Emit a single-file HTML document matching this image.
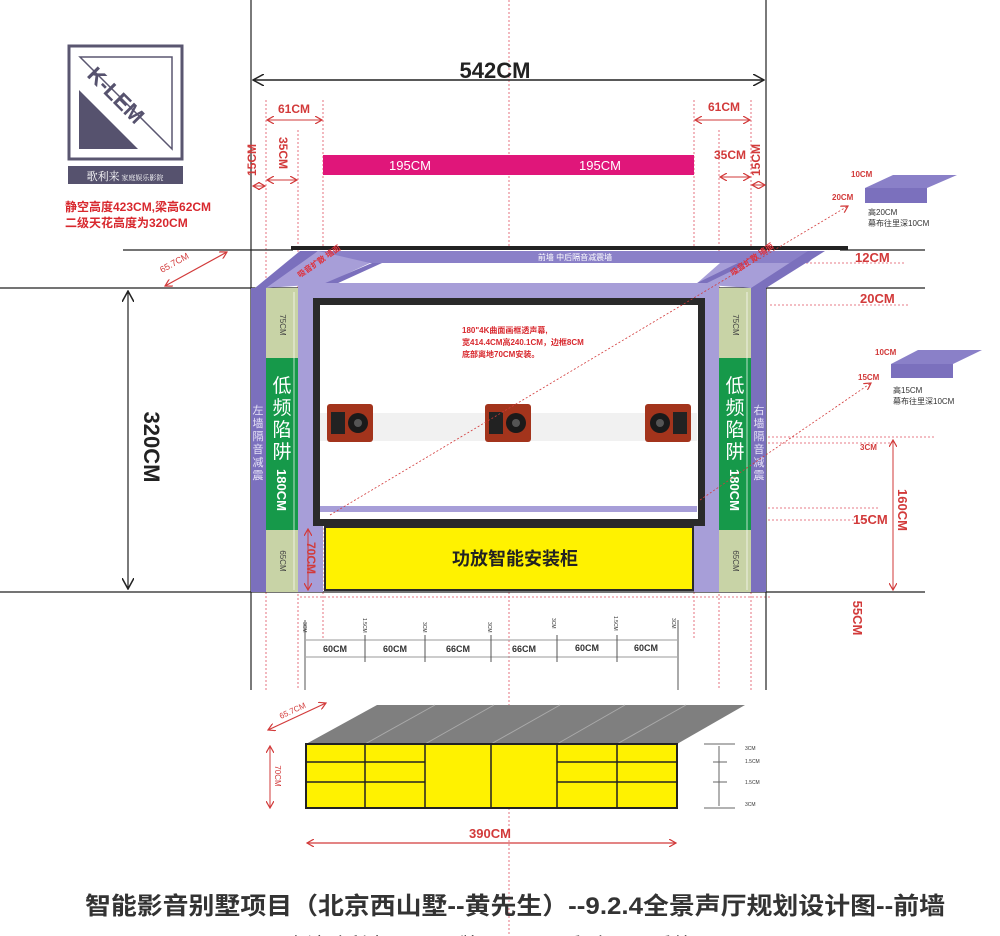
<!DOCTYPE html>
<html><head><meta charset="utf-8"><style>
body{margin:0;background:#fff;}
svg{display:block;font-family:"Liberation Sans","Noto Sans CJK SC",sans-serif;}
</style></head><body>
<svg width="1000" height="936" viewBox="0 0 1000 936" xmlns="http://www.w3.org/2000/svg">
<defs>
<marker id="ar" markerWidth="8" markerHeight="8" refX="7" refY="4" orient="auto-start-reverse" markerUnits="userSpaceOnUse"><path d="M0,0 L7,4 L0,8" fill="none" stroke="#d23a3a" stroke-width="1.2"/></marker>
<marker id="ak" markerWidth="12" markerHeight="12" refX="11" refY="6" orient="auto-start-reverse" markerUnits="userSpaceOnUse"><path d="M0,0 L11,6 L0,12" fill="none" stroke="#222" stroke-width="1.5"/></marker>
</defs>
<rect width="1000" height="936" fill="#fff"/>

<g stroke="#e05060" stroke-width="0.8" stroke-dasharray="2,2" fill="none">
<line x1="509" y1="0" x2="509" y2="936"/>
<line x1="266" y1="100" x2="266" y2="690"/>
<line x1="298" y1="130" x2="298" y2="690"/>
<line x1="323" y1="100" x2="323" y2="640"/>
<line x1="694" y1="100" x2="694" y2="640"/>
<line x1="719" y1="130" x2="719" y2="690"/>
<line x1="751" y1="100" x2="751" y2="690"/>
<line x1="770" y1="263" x2="905" y2="263"/>
<line x1="770" y1="305" x2="910" y2="305"/>
<line x1="320" y1="437" x2="935" y2="437"/>
<line x1="320" y1="443" x2="890" y2="443"/>
<line x1="300" y1="508" x2="880" y2="508"/>
<line x1="300" y1="520" x2="870" y2="520"/>
<line x1="300" y1="597" x2="770" y2="597"/>
</g>

<g stroke="#222" stroke-width="1.2">
<line x1="251" y1="0" x2="251" y2="690"/>
<line x1="766" y1="0" x2="766" y2="690"/>
<line x1="0" y1="288" x2="925" y2="288"/>
<line x1="0" y1="592" x2="925" y2="592"/>
<line x1="123" y1="250" x2="293" y2="250"/>
<line x1="840" y1="250" x2="925" y2="250"/>
</g>
<line x1="253" y1="80" x2="764" y2="80" stroke="#222" stroke-width="1.5" marker-start="url(#ak)" marker-end="url(#ak)"/>
<text x="495" y="78" font-size="22" font-weight="bold" text-anchor="middle" fill="#222">542CM</text>

<rect x="69" y="46" width="113" height="113" fill="#fff" stroke="#5a5670" stroke-width="3"/>
<path d="M80,57 L172,57 L172,149 Z" fill="none" stroke="#5a5670" stroke-width="1.5"/>
<path d="M79,90 L79,149 L138,149 Z" fill="#56526e"/>
<text x="0" y="0" font-size="22" font-weight="bold" fill="#56526e" transform="translate(86,76) rotate(45)">K-LEM</text>
<rect x="68" y="166" width="115" height="18" fill="#56526e"/>
<text x="125" y="180" font-size="11" fill="#fff" text-anchor="middle" font-family="Liberation Serif,Noto Serif CJK SC,serif">歌利来<tspan font-size="7"> 家庭娱乐影院</tspan></text>
<text x="65" y="211" font-size="12" font-weight="bold" fill="#d8282e">静空高度423CM,梁高62CM</text>
<text x="65" y="227" font-size="12" font-weight="bold" fill="#d8282e">二级天花高度为320CM</text>

<g stroke="#d23a3a" stroke-width="1" fill="none">
<line x1="267" y1="120" x2="322" y2="120" marker-start="url(#ar)" marker-end="url(#ar)"/>
<line x1="267" y1="180" x2="297" y2="180" marker-start="url(#ar)" marker-end="url(#ar)"/>
<line x1="253" y1="186" x2="265" y2="186" marker-start="url(#ar)" marker-end="url(#ar)"/>
<line x1="695" y1="120" x2="750" y2="120" marker-start="url(#ar)" marker-end="url(#ar)"/>
<line x1="720" y1="177" x2="750" y2="177" marker-start="url(#ar)" marker-end="url(#ar)"/>
<line x1="752" y1="185" x2="765" y2="185" marker-start="url(#ar)" marker-end="url(#ar)"/>
</g>
<g fill="#d23a3a" font-weight="bold">
<text x="294" y="113" font-size="12" text-anchor="middle">61CM</text>
<text x="724" y="111" font-size="12" text-anchor="middle">61CM</text>
<text x="730" y="159" font-size="12" text-anchor="middle">35CM</text>
<text font-size="12" transform="translate(256,160) rotate(-90)" text-anchor="middle">15CM</text>
<text font-size="12" transform="translate(279,153) rotate(90)" text-anchor="middle">35CM</text>
<text font-size="12" transform="translate(760,160) rotate(-90)" text-anchor="middle">15CM</text>
</g>
<rect x="323" y="155" width="371" height="20" fill="#e0167a"/>
<text x="410" y="170" font-size="13" fill="#fff" text-anchor="middle">195CM</text>
<text x="600" y="170" font-size="13" fill="#fff" text-anchor="middle">195CM</text>

<rect x="291" y="246" width="557" height="4" fill="#222"/>
<polygon points="255,288 318,251 820,251 766,288 750,288 695,284 323,284 266,288" fill="#a79ed8"/>
<polygon points="318,251 820,251 808,263 370,263" fill="#8a80c8"/>
<polygon points="255,288 300,251 318,251 266,288" fill="#7b70bd"/>
<polygon points="766,288 825,251 808,251 751,288" fill="#7b70bd"/>
<polygon points="323,285 370,263 700,263 720,263 695,285" fill="#fff"/>
<polygon points="323,284 372,263 382,263 336,284" fill="#7b70bd"/>
<polygon points="695,284 738,263 748,263 705,284" fill="#7b70bd"/>
<text x="575" y="260" font-size="8" fill="#fff" text-anchor="middle">前墙 中后隔音减震墙</text>
<text font-size="8" fill="#e0303a" font-weight="bold" transform="translate(300,278) rotate(-35)">吸音扩散 墙面</text>
<text font-size="8" fill="#e0303a" font-weight="bold" transform="translate(733,276) rotate(-35)">吸音扩散 墙面</text>

<rect x="251" y="288" width="15" height="304" fill="#7b70bd"/>
<rect x="751" y="288" width="15" height="304" fill="#7b70bd"/>
<rect x="266" y="288" width="32" height="304" fill="#c8d3a6"/>
<rect x="719" y="288" width="32" height="304" fill="#c8d3a6"/>
<rect x="266" y="358" width="32" height="172" fill="#16994a"/>
<rect x="719" y="358" width="32" height="172" fill="#16994a"/>
<rect x="298" y="283" width="25" height="309" fill="#a79ed8"/>
<rect x="694" y="283" width="25" height="309" fill="#a79ed8"/>
<rect x="313" y="283" width="392" height="15" fill="#a79ed8"/>
<rect x="316.5" y="301.5" width="385" height="221" fill="#fff" stroke="#2a2a2a" stroke-width="7"/>
<rect x="320" y="506" width="377" height="6" fill="#a79ed8"/>
<rect x="320" y="413" width="377" height="28" fill="#f1f1f1"/>
<g fill="#d8282e" font-size="8" font-weight="bold">
<text x="462" y="333">180"4K曲面画框透声幕,</text>
<text x="462" y="345">宽414.4CM高240.1CM，边框8CM</text>
<text x="462" y="357">底部离地70CM安装。</text>
</g>
<g>
<rect x="327" y="404" width="46" height="38" rx="3" fill="#a3341c"/>
<rect x="331" y="412" width="14" height="22" fill="#222"/><circle cx="358" cy="423" r="10" fill="#1a1a1a"/><circle cx="358" cy="423" r="4" fill="#555"/>
<rect x="485" y="404" width="46" height="38" rx="3" fill="#a3341c"/>
<rect x="489" y="412" width="14" height="22" fill="#222"/><circle cx="516" cy="423" r="10" fill="#1a1a1a"/><circle cx="516" cy="423" r="4" fill="#555"/>
<rect x="645" y="404" width="46" height="38" rx="3" fill="#a3341c"/>
<circle cx="660" cy="423" r="10" fill="#1a1a1a"/><circle cx="660" cy="423" r="4" fill="#555"/><rect x="673" y="412" width="14" height="22" fill="#222"/>
</g>
<rect x="325" y="527" width="368" height="63" fill="#fff200" stroke="#2a2a2a" stroke-width="2"/>
<text x="515" y="565" font-size="18" font-weight="bold" text-anchor="middle" fill="#222">功放智能安装柜</text>

<g fill="#fff" font-size="19" text-anchor="middle">
<text x="282" y="392">低</text><text x="282" y="414">频</text><text x="282" y="436">陷</text><text x="282" y="458">阱</text>
<text x="735" y="392">低</text><text x="735" y="414">频</text><text x="735" y="436">陷</text><text x="735" y="458">阱</text>
</g>
<text font-size="13" font-weight="bold" fill="#fff" text-anchor="middle" transform="translate(277,490) rotate(90)">180CM</text>
<text font-size="13" font-weight="bold" fill="#fff" text-anchor="middle" transform="translate(730,490) rotate(90)">180CM</text>
<g font-size="8" fill="#444" text-anchor="middle">
<text transform="translate(280,325) rotate(90)">75CM</text>
<text transform="translate(280,561) rotate(90)">65CM</text>
<text transform="translate(733,325) rotate(90)">75CM</text>
<text transform="translate(733,561) rotate(90)">65CM</text>
</g>
<g fill="#e6e2f7" font-size="11" text-anchor="middle">
<text x="258" y="414">左</text><text x="258" y="427">墙</text><text x="258" y="440">隔</text><text x="258" y="453">音</text><text x="258" y="466">减</text><text x="258" y="479">震</text>
<text x="759" y="414">右</text><text x="759" y="427">墙</text><text x="759" y="440">隔</text><text x="759" y="453">音</text><text x="759" y="466">减</text><text x="759" y="479">震</text>
</g>
<g stroke="#fff" stroke-width="0.7"><line x1="294" y1="292" x2="294" y2="590"/><line x1="747" y1="292" x2="747" y2="590"/></g>

<line x1="128" y1="291" x2="128" y2="589" stroke="#222" stroke-width="1.2" marker-start="url(#ak)" marker-end="url(#ak)"/>
<text font-size="22" font-weight="bold" fill="#222" text-anchor="middle" transform="translate(144,447) rotate(90)">320CM</text>
<line x1="165" y1="286" x2="227" y2="252" stroke="#d23a3a" stroke-width="1.2" marker-start="url(#ar)" marker-end="url(#ar)"/>
<text font-size="9" fill="#d23a3a" transform="translate(162,273) rotate(-29)">65.7CM</text>
<line x1="308" y1="529" x2="308" y2="590" stroke="#d23a3a" stroke-width="1" marker-start="url(#ar)" marker-end="url(#ar)"/>
<text font-size="12" font-weight="bold" fill="#d23a3a" text-anchor="middle" transform="translate(307,558) rotate(90)">70CM</text>

<g fill="#d23a3a" font-weight="bold">
<text x="855" y="262" font-size="13">12CM</text>
<text x="860" y="303" font-size="13">20CM</text>
<text x="853" y="524" font-size="13">15CM</text>
<text x="860" y="450" font-size="8">3CM</text>
<text font-size="13" text-anchor="middle" transform="translate(898,510) rotate(90)">160CM</text>
<text font-size="13" text-anchor="middle" transform="translate(853,618) rotate(90)">55CM</text>
<text x="851" y="177" font-size="8">10CM</text>
<text x="832" y="200" font-size="8">20CM</text>
<text x="875" y="355" font-size="8">10CM</text>
<text x="858" y="380" font-size="8">15CM</text>
</g>
<line x1="893" y1="440" x2="893" y2="590" stroke="#d23a3a" stroke-width="1" marker-start="url(#ar)" marker-end="url(#ar)"/>
<g stroke="#d23a3a" stroke-width="0.8" fill="none" stroke-dasharray="2,2">
<line x1="330" y1="515" x2="848" y2="206" marker-end="url(#ar)"/>
<line x1="700" y1="500" x2="871" y2="383" marker-end="url(#ar)"/>
</g>
<polygon points="865,188 893,175 957,175 927,188" fill="#8a80c8"/>
<rect x="865" y="188" width="62" height="15" fill="#7b70bd"/>
<polygon points="891,364 918,350 982,350 953,364" fill="#8a80c8"/>
<rect x="891" y="364" width="62" height="14" fill="#7b70bd"/>
<g font-size="8" fill="#333">
<text x="868" y="215">高20CM</text><text x="868" y="226">幕布往里深10CM</text>
<text x="893" y="393">高15CM</text><text x="893" y="404">幕布往里深10CM</text>
</g>

<g stroke="#999" stroke-width="1">
<line x1="306" y1="640" x2="677" y2="640"/><line x1="306" y1="657" x2="677" y2="657"/>
</g>
<g stroke="#555" stroke-width="1">
<line x1="305" y1="620" x2="305" y2="690"/><line x1="365" y1="635" x2="365" y2="662"/><line x1="425" y1="635" x2="425" y2="662"/><line x1="491" y1="635" x2="491" y2="662"/><line x1="557" y1="635" x2="557" y2="662"/><line x1="617" y1="635" x2="617" y2="662"/><line x1="678" y1="620" x2="678" y2="690"/>
</g>
<g font-size="9" font-weight="bold" fill="#333" text-anchor="middle">
<text x="335" y="652">60CM</text><text x="395" y="652">60CM</text><text x="458" y="652">66CM</text><text x="524" y="652">66CM</text><text x="587" y="651">60CM</text><text x="646" y="651">60CM</text>
</g>
<g font-size="5" fill="#333">
<text transform="translate(303,622) rotate(90)">3CM</text><text transform="translate(363,618) rotate(90)">1.5CM</text><text transform="translate(423,622) rotate(90)">3CM</text><text transform="translate(488,622) rotate(90)">3CM</text><text transform="translate(552,618) rotate(90)">3CM</text><text transform="translate(614,616) rotate(90)">1.5CM</text><text transform="translate(672,618) rotate(90)">3CM</text>
</g>

<polygon points="306,744 377,705 745,705 677,744" fill="#7f7f7f"/>
<g stroke="#aaa" stroke-width="1"><line x1="365" y1="744" x2="435" y2="705"/><line x1="425" y1="744" x2="494" y2="705"/><line x1="491" y1="744" x2="560" y2="705"/><line x1="557" y1="744" x2="625" y2="705"/><line x1="617" y1="744" x2="686" y2="705"/></g>
<rect x="306" y="744" width="371" height="64" fill="#fff200" stroke="#222" stroke-width="2"/>
<g stroke="#222" stroke-width="1.5">
<line x1="365" y1="744" x2="365" y2="808"/><line x1="425" y1="744" x2="425" y2="808"/><line x1="491" y1="744" x2="491" y2="808"/><line x1="557" y1="744" x2="557" y2="808"/><line x1="617" y1="744" x2="617" y2="808"/>
<line x1="306" y1="762" x2="425" y2="762"/><line x1="306" y1="782" x2="425" y2="782"/>
<line x1="557" y1="762" x2="677" y2="762"/><line x1="557" y1="782" x2="677" y2="782"/>
</g>
<line x1="270" y1="746" x2="270" y2="808" stroke="#d23a3a" stroke-width="1" marker-start="url(#ar)" marker-end="url(#ar)"/>
<text font-size="8" fill="#d23a3a" text-anchor="middle" transform="translate(275,776) rotate(90)">70CM</text>
<line x1="268" y1="730" x2="326" y2="703" stroke="#d23a3a" stroke-width="1.2" marker-start="url(#ar)" marker-end="url(#ar)"/>
<text font-size="8" fill="#d23a3a" transform="translate(281,719) rotate(-25)">65.7CM</text>
<line x1="307" y1="843" x2="676" y2="843" stroke="#d23a3a" stroke-width="1.2" marker-start="url(#ar)" marker-end="url(#ar)"/>
<text x="490" y="838" font-size="13" font-weight="bold" fill="#d23a3a" text-anchor="middle">390CM</text>
<g stroke="#666" stroke-width="1">
<line x1="704" y1="744" x2="735" y2="744"/><line x1="704" y1="808" x2="735" y2="808"/>
<line x1="719" y1="746" x2="719" y2="806"/>
<line x1="713" y1="762" x2="727" y2="762"/><line x1="713" y1="782" x2="727" y2="782"/>
</g>
<g font-size="5" fill="#333">
<text x="745" y="750">3CM</text><text x="745" y="763">1.5CM</text><text x="745" y="784">1.5CM</text><text x="745" y="806">3CM</text>
</g>

<text x="85" y="914" font-size="24" font-weight="bold" fill="#333" textLength="860" lengthAdjust="spacingAndGlyphs">智能影音别墅项目（北京西山墅--黄先生）--9.2.4全景声厅规划设计图--前墙</text>
<text x="490" y="952" font-size="20" fill="#444" text-anchor="middle">台湾歌利来K-lem品牌 M5R-RR系列 9.2.4系统</text>
</svg>
</body></html>
